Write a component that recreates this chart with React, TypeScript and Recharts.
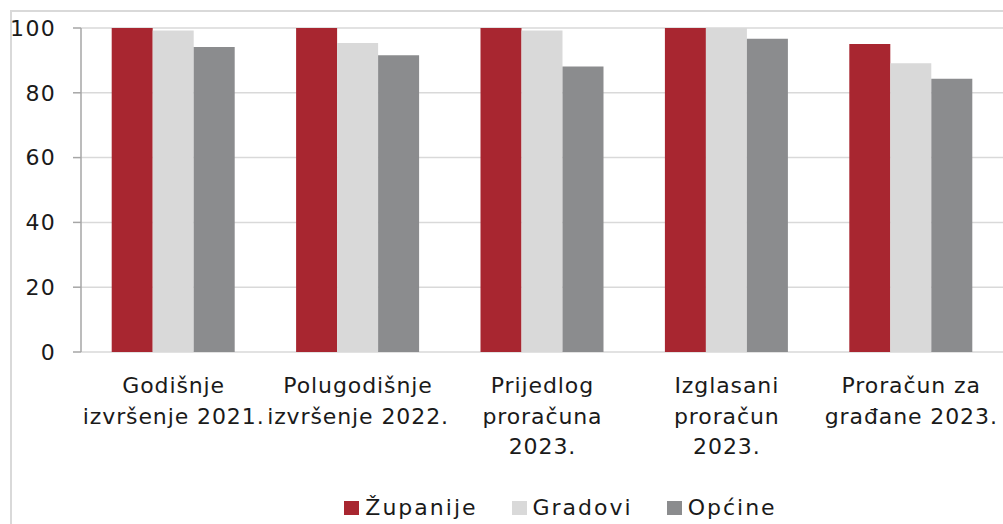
import React from "react";
import { BarChart, Bar, XAxis, YAxis, CartesianGrid, Legend } from "recharts";

const categories = [
  "Godišnje\nizvršenje 2021.",
  "Polugodišnje\nizvršenje 2022.",
  "Prijedlog\nproračuna\n2023.",
  "Izglasani\nproračun\n2023.",
  "Proračun za\ngrađane 2023.",
];
const zupanije = [100, 100, 100, 100, 95.1];
const gradovi = [99.2, 95.4, 99.2, 100, 89.1];
const opcine = [94.1, 91.6, 88.1, 96.7, 84.3];
const yTicks = [0, 20, 40, 60, 80, 100];
const edgeTicks = [0, 1, 2, 3, 4, 5];

const seriesNames = ["Županije", "Gradovi", "Općine"];
const colors = ["#A82630", "#D9D9D9", "#8B8C8E"];

const data = categories.map((c, i) => ({
  name: c,
  z: zupanije[i],
  g: gradovi[i],
  o: opcine[i],
}));

const FONT = "'DejaVu Sans', sans-serif";
const TEXT = "#1a1a1a";
const FS = 22;
const LS = 0.9;

const CatTick = (props: any) => {
  const { x, y, payload } = props;
  const lines = String(payload.value).split("\n");
  return (
    <g>
      {lines.map((l: string, i: number) => (
        <text
          key={i}
          x={x + LS / 2}
          y={y + 41 + i * 30.5}
          textAnchor="middle"
          fontFamily={FONT}
          fontSize={FS}
          letterSpacing={LS}
          fill={TEXT}
        >
          {l}
        </text>
      ))}
    </g>
  );
};

const LegendContent = () => (
  <div
    style={{
      display: "flex",
      justifyContent: "center",
      alignItems: "center",
      height: 24,
      fontFamily: FONT,
      fontSize: FS,
      letterSpacing: 2,
      color: TEXT,
      paddingLeft: 118,
    }}
  >
    {seriesNames.map((n, i) => (
      <div key={n} style={{ display: "flex", alignItems: "center", marginRight: i < 2 ? 34 : 0 }}>
        <div style={{ width: 15, height: 14, background: colors[i], marginRight: 6 }} />
        <span style={{ lineHeight: "24px" }}>{n}</span>
      </div>
    ))}
  </div>
);

export default function App() {
  return (
    <div style={{ position: "absolute", left: 0, top: 0, width: 1003, height: 524, background: "#fff" }}>
      <div
        style={{
          position: "absolute",
          left: 10,
          top: 10,
          width: 1003,
          height: 524,
          borderLeft: "2px solid #d9d9d9",
          borderTop: "2px solid #d9d9d9",
        }}
      />
      <div style={{ position: "absolute", left: 0, top: 0 }}>
        <BarChart
          width={1003}
          height={524}
          data={data}
          margin={{ top: 28, right: 0, left: 0, bottom: 4 }}
          barCategoryGap="16.65%"
          barGap={0}
        >
          <CartesianGrid vertical={false} stroke="#d9d9d9" strokeWidth={1.5} />
          <XAxis
            xAxisId="edges"
            type="number"
            domain={[0, 5]}
            allowDataOverflow
            ticks={edgeTicks}
            tick={false}
            tickSize={8}
            height={0}
            stroke="#a6a6a6"
            axisLine={{ stroke: "#a6a6a6", strokeWidth: 1.5 }}
            tickLine={{ stroke: "#a6a6a6", strokeWidth: 1.5 }}
          />
          <XAxis
            dataKey="name"
            axisLine={false}
            tickLine={false}
            tickSize={0}
            tickMargin={0}
            height={144}
            interval={0}
            tick={<CatTick />}
          />
          <YAxis
            domain={[0, 100]}
            ticks={yTicks}
            width={81}
            tickSize={8}
            tickMargin={17}
            axisLine={{ stroke: "#a6a6a6", strokeWidth: 1.5 }}
            tickLine={{ stroke: "#a6a6a6", strokeWidth: 1.5 }}
            tick={{ fill: TEXT, fontFamily: FONT, fontSize: FS, letterSpacing: 1.3 }}
          />
          <Legend verticalAlign="bottom" content={<LegendContent />} />
          <Bar dataKey="z" name={seriesNames[0]} fill={colors[0]} isAnimationActive={false} />
          <Bar dataKey="g" name={seriesNames[1]} fill={colors[1]} isAnimationActive={false} />
          <Bar dataKey="o" name={seriesNames[2]} fill={colors[2]} isAnimationActive={false} />
        </BarChart>
      </div>
    </div>
  );
}
